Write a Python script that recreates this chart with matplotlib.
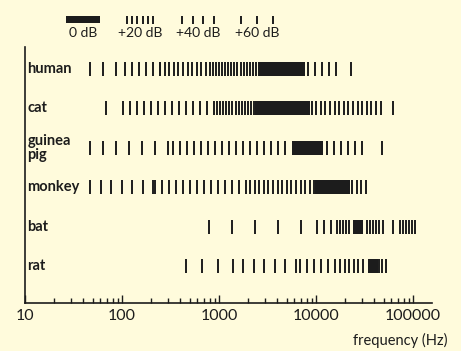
"""
Hearing ranges of six mammals: tick density shows threshold above best hearing.
"""

import matplotlib.pyplot as plt
import numpy as np
from matplotlib.ticker import NullFormatter


W, H, DPI = 461, 351, 100
BG = "#fffbdc"
INK = "#1c1c1c"
FONT = "Lato"

animals = ["human", "cat", "guinea\npig", "monkey", "bat", "rat"]

# (from Hz, to Hz, threshold in dB above best sensitivity)
human = [(47, 107, 50), (107, 246, 30), (246, 800, 20), (800, 2520, 10),
         (2520, 7700, 0), (8200, 17000, 30), (23000, 23000, 60)]
cat = [(68, 68, 60), (102, 953, 30), (953, 2350, 10), (2350, 8670, 0),
       (9000, 49000, 20), (62000, 84000, 50)]
guinea_pig = [(47, 300, 50), (336, 5400, 30), (5660, 11800, 0),
              (13000, 30500, 30), (47900, 47900, 60)]
monkey = [(47, 219, 40), (219, 2088, 30), (2088, 9770, 20),
          (9770, 22400, 0), (23500, 32800, 20)]
bat = [(790, 7350, 70), (10230, 15000, 30), (16450, 22400, 10),
       (24050, 30500, 0), (33570, 49000, 10), (62200, 62200, 60),
       (73400, 110000, 10)]
rat = [(457, 1000, 60), (1394, 6840, 40), (6840, 17670, 30),
       (17670, 33570, 20), (34000, 43550, 0), (45000, 55200, 10)]
bands = [human, cat, guinea_pig, monkey, bat, rat]

legend_levels = [0, 20, 40, 60]
legend_labels = ["0 dB", "+20 dB", "+40 dB", "+60 dB"]

x_min, x_max = 10, 157000
freq_ticks = [10, 100, 1000, 10000, 100000]

# pixel gap between ticks for each level (0 dB is drawn solid)
GAP_PX = {70: 23, 60: 16, 50: 13, 40: 10.5, 30: 7, 20: 4.6, 10: 3.1}
TICK_LW = 1.4


def main() -> None:
    plt.rcParams["font.family"] = [FONT, "DejaVu Sans"]
    fig = plt.figure(figsize=(W / DPI, H / DPI), dpi=DPI, facecolor=BG)

    left, right, top, bottom = 25, 432, 47, 303
    ax = fig.add_axes([left / W, (H - bottom) / H, (right - left) / W, (bottom - top) / H])
    ax.set_facecolor(BG)
    ax.set_xscale("log")
    ax.set_xlim(x_min, x_max)
    ax.set_ylim(5.94, -0.56)

    px_dec = (right - left) / np.log10(x_max / x_min)
    half = 7 / ((bottom - top) / 6.5)

    for i, segs in enumerate(bands):
        for f0, f1, level in segs:
            if level == 0:
                ax.broken_barh([(f0, f1 - f0)], (i - half, 2 * half), color=INK, lw=0)
            else:
                step = GAP_PX[level] / px_dec
                xs = 10 ** np.arange(np.log10(f0), np.log10(f1) + 1e-9, step)
                ax.vlines(xs, i - half, i + half, color=INK, lw=TICK_LW)
        ax.text(0.006, i, animals[i], transform=ax.get_yaxis_transform(),
                ha="left", va="center", fontsize=10.5, fontweight="bold",
                color=INK, linespacing=0.95)

    for side in ("top", "right"):
        ax.spines[side].set_visible(False)
    for side in ("left", "bottom"):
        ax.spines[side].set_linewidth(1.2)
        ax.spines[side].set_color(INK)
    ax.set_yticks([])
    ax.set_xticks(freq_ticks, labels=[str(f) for f in freq_ticks])
    ax.xaxis.set_minor_formatter(NullFormatter())
    ax.tick_params(axis="x", which="major", direction="in", length=6, width=1,
                   color=INK, pad=4, labelsize=11.5, labelcolor=INK)
    ax.tick_params(axis="x", which="minor", direction="in", length=3.5, width=1,
                   color=INK)
    fig.text(447 / W, 1 - 340 / H, "frequency (Hz)", ha="right", va="center",
             fontsize=10.5, color=INK)

    # legend samples in pixel space
    lax = fig.add_axes([0, 0, 1, 1])
    lax.set_xlim(0, W)
    lax.set_ylim(H, 0)
    lax.axis("off")
    centers = [83, 140, 198, 257]
    widths = [34, 27.5, 33, 33]
    legend_gap = {20: 5.3, 40: 10.7, 60: 16}
    for cx, wd, level, label in zip(centers, widths, legend_levels, legend_labels):
        if level == 0:
            lax.broken_barh([(cx - wd / 2, wd)], (15.5, 7.5), color=INK, lw=0)
        else:
            xs = cx - wd / 2 + np.arange(0, wd + 1e-9, legend_gap[level])
            xs += (cx - (xs[0] + xs[-1]) / 2)
            lax.vlines(xs, 16, 24, color=INK, lw=TICK_LW)
        lax.text(cx, 33, label, ha="center", va="center", fontsize=10, color=INK)

    fig.savefig("out.png", dpi=DPI, facecolor=BG)
    plt.close(fig)


if __name__ == "__main__":
    main()
